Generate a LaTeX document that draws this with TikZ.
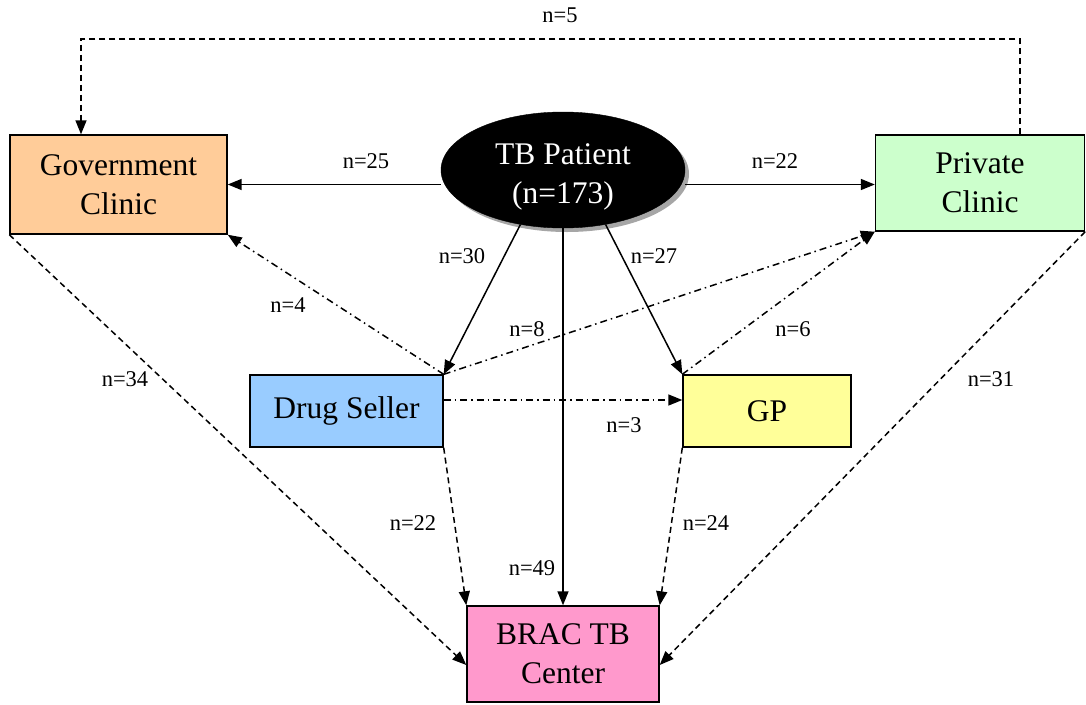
\documentclass[tikz,border=0pt]{standalone}
\usepackage{fontspec}
\setmainfont{Liberation Serif}
\usetikzlibrary{arrows.meta,shadows,shapes.geometric}
\begin{document}
\begin{tikzpicture}[x=1pt,y=-1pt,
  box/.style={draw=black,line width=1.4pt,inner sep=0pt,align=center,font=\fontsize{31.5}{39}\selectfont},
  lbl/.style={font=\fontsize{22.5}{26}\selectfont,inner sep=0pt},
  conn/.style={line width=1.5pt,-{Triangle[length=14pt,width=11pt]}},
  dsh/.style={conn,dash pattern=on 6pt off 4pt},
  dd/.style={conn,dash pattern=on 7pt off 4pt on 1.5pt off 4pt}]
\useasboundingbox (0,0) rectangle (1086,704);
\node[box,fill={rgb,255:red,255;green,204;blue,153},minimum width=217pt,minimum height=99pt] (gov) at (118.5,184.5) {Government\\Clinic};
\node[box,fill={rgb,255:red,204;green,255;blue,204},minimum width=209pt,minimum height=96pt] (priv) at (980,183) {Private\\Clinic};
\node[box,fill={rgb,255:red,153;green,204;blue,255},minimum width=193pt,minimum height=72pt] (drug) at (346.5,411) {Drug Seller};
\node[box,fill={rgb,255:red,255;green,255;blue,153},minimum width=168pt,minimum height=72pt] (gp) at (767,411) {GP};
\node[box,fill={rgb,255:red,255;green,153;blue,204},minimum width=192pt,minimum height=96pt] (brac) at (563,654) {BRAC TB\\Center};
\node[ellipse,fill=black,draw=black,inner sep=0pt,minimum width=244pt,minimum height=116pt,
  drop shadow={shadow xshift=4pt,shadow yshift=-4pt,fill=gray,opacity=0.7}] (tb) at (563,170) {};
\node[text=white,align=center,inner sep=0pt,font=\fontsize{31.5}{39}\selectfont] (tbtext) at (563,177) {TB Patient\\(n=173)};
% connectors
\draw[conn] (tb.west |- gov.east) -- (gov.east);
\draw[conn] (tb.east |- gov.east) -- (priv.west |- gov.east);
\draw[conn] (tb.232) -- (drug.north east);
\draw[conn] (tb.308) -- (gp.north west);
\draw[conn] (tb.south) -- (brac.north);
\coordinate (ntop) at (563,39);
\draw[dsh] ([xshift=40pt]priv.north) |- (ntop) -| ([xshift=-37.5pt]gov.north);
\draw[dd] (drug.north east) -- (gov.south east);
\draw[dd] (drug.north east) -- (priv.south west);
\draw[dd] (gp.north west) -- (priv.south west);
\draw[dd] ([yshift=11pt]drug.east) -- ([yshift=11pt]gp.west);
\draw[dsh] (gov.south west) -- ([yshift=-11pt]brac.west);
\draw[dsh] (priv.south east) -- ([yshift=-11pt]brac.east);
\draw[dsh] (drug.south east) -- (brac.north west);
\draw[dsh] (gp.south west) -- (brac.north east);
% labels
\node[lbl] (l25) at (366,161) {n=25};
\node[lbl] (l22a) at (775,161) {n=22};
\node[lbl] (l30) at (462,256) {n=30};
\node[lbl] (l27) at (654,256) {n=27};
\node[lbl] (l49) at (532,568) {n=49};
\node[lbl] (l5) at (560,15) {n=5};
\node[lbl] (l4) at (288,305) {n=4};
\node[lbl] (l8) at (527,329) {n=8};
\node[lbl] (l6) at (793,329) {n=6};
\node[lbl] (l3) at (624,425) {n=3};
\node[lbl] (l34) at (125,379) {n=34};
\node[lbl] (l31) at (991,379) {n=31};
\node[lbl] (l22b) at (413,523) {n=22};
\node[lbl] (l24) at (706,523) {n=24};
\end{tikzpicture}
\end{document}
